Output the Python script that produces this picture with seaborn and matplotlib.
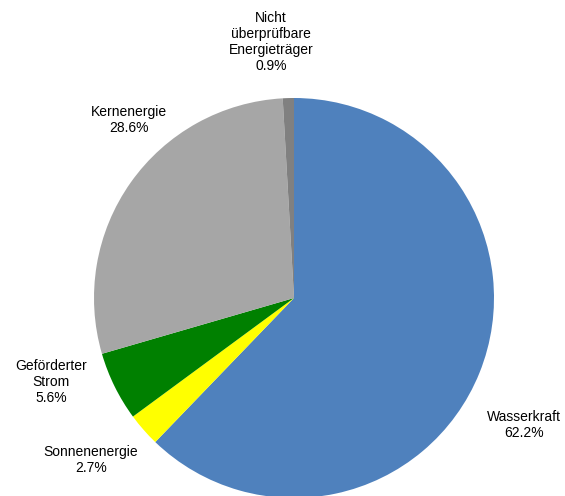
import matplotlib
matplotlib.use("Agg")
import matplotlib.pyplot as plt
import seaborn as sns

sns.set_theme(style="white")
plt.rcParams['font.family'] = ['Liberation Sans', 'DejaVu Sans']

categories = ["Wasserkraft", "Sonnenenergie", "Geförderter\nStrom", "Kernenergie",
              "Nicht\nüberprüfbare\nEnergieträger"]
values = [62.2, 2.7, 5.6, 28.6, 0.9]
colors = ["#4F81BD", "#FFFF00", "#008000", "#A6A6A6", "#808080"]
label_pos = [(1.15, -0.635), (-1.015, -0.81), (-1.215, -0.42), (-0.825, 0.89), (-0.115, 1.28)]

fig = plt.figure(figsize=(5.65, 4.96), dpi=100)
ax = fig.add_axes([0, 0, 1, 1])
labels = [f"{c}\n{v:.1f}%" for c, v in zip(categories, values)]
wedges, texts = ax.pie(values, colors=colors, startangle=90, counterclock=False,
                       labels=labels, radius=1.0,
                       wedgeprops=dict(linewidth=0))
for t, (x, y) in zip(texts, label_pos):
    t.set_position((x, y))
    t.set_ha("center")
    t.set_va("center")
    t.set_multialignment("center")
    t.set_fontsize(10)
    t.set_color("black")
ax.set_aspect("equal")
ax.set_xlim(-294 / 200, (565 - 294) / 200)
ax.set_ylim(-(496 - 298) / 200, 298 / 200)
ax.axis("off")
fig.savefig("out.png", dpi=100)
